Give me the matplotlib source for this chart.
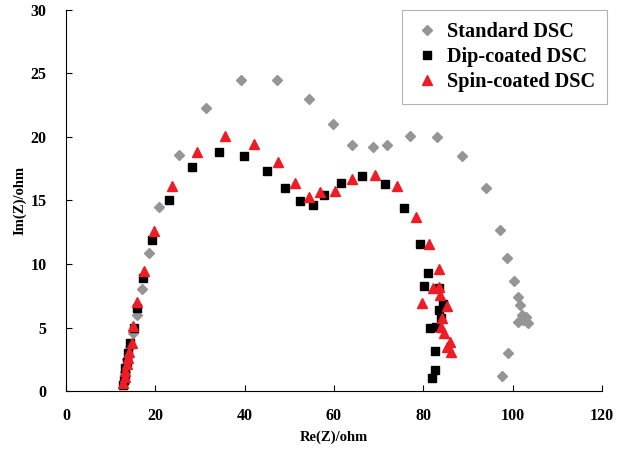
import numpy as np
import matplotlib.pyplot as plt

# Nyquist data: Re(Z), Im(Z) in ohm
std_re = [12.9, 13.3, 13.7, 14.3, 15.1, 16.0, 16.9, 18.5, 20.9, 25.3, 31.4, 39.1,
          47.3, 54.5, 59.8, 64.0, 68.7, 71.9, 77.0, 83.1, 88.7, 94.0, 97.2, 98.8,
          100.4, 101.1, 101.6, 102.0, 103.1, 101.3, 103.5, 102.4, 99.0, 97.7]
std_im = [0.6, 1.5, 2.5, 3.5, 4.54, 5.98, 8.03, 10.9, 14.5, 18.6, 22.3, 24.5,
          24.5, 23.0, 21.0, 19.4, 19.2, 19.4, 20.1, 20.0, 18.5, 16.0, 12.65, 10.45,
          8.66, 7.43, 6.77, 5.98, 5.85, 5.46, 5.38, 5.6, 2.97, 1.18]

dip_re = [12.7, 12.9, 13.1, 13.3, 13.6, 13.95, 14.3, 15.15, 15.9, 17.2, 19.3, 23.1,
          28.2, 34.2, 39.9, 45.1, 49.0, 52.3, 55.3, 57.8, 61.5, 66.3, 71.5, 75.7,
          79.2, 81.1, 80.2, 83.6, 84.3, 83.4, 83.95, 81.5, 82.8, 82.6, 82.6, 81.9]
dip_im = [0.5, 0.9, 1.3, 1.8, 2.3, 2.97, 3.75, 4.99, 6.51, 8.92, 11.9, 15.06,
          17.6, 18.8, 18.5, 17.35, 15.96, 14.98, 14.65, 15.4, 16.4, 16.9, 16.3, 14.4,
          11.55, 9.3, 8.27, 8.08, 6.83, 6.38, 5.72, 4.93, 5.06, 3.17, 1.65, 1.0]

spin_re = [12.8, 13.1, 13.3, 13.6, 13.9, 14.2, 14.7, 15.0, 15.9, 17.4, 19.8, 23.65,
           29.3, 35.7, 42.1, 47.5, 51.3, 54.5, 56.9, 60.2, 64.0, 69.1, 74.0, 78.3,
           81.3, 83.6, 82.2, 83.6, 83.7, 79.8, 85.2, 84.25, 83.9, 84.6, 86.0, 85.4, 86.3]
spin_im = [0.6, 1.1, 1.6, 2.1, 2.6, 3.1, 3.8, 5.12, 6.98, 9.47, 12.6, 16.1,
           18.8, 20.05, 19.45, 18.0, 16.35, 15.25, 15.67, 15.75, 16.7, 17.0, 16.1, 13.7,
           11.57, 9.58, 8.08, 8.16, 7.56, 6.9, 6.69, 5.72, 5.06, 4.54, 3.88, 3.44, 3.1]

plt.rcParams['font.family'] = ['Liberation Serif', 'DejaVu Serif']
plt.rcParams['font.weight'] = 'bold'

fig = plt.figure(figsize=(6.29, 4.5), dpi=100)
ax = fig.add_axes([0.105, 0.131, 0.852, 0.847])

ax.plot(std_re, std_im, 'D', color='#959595', ms=4.7, mec='#959595', label='Standard DSC')
ax.plot(dip_re, dip_im, 's', color='black', ms=6.3, label='Dip-coated DSC')
ax.plot(spin_re, spin_im, '^', color='#ee1c24', ms=7, label='Spin-coated DSC')

ax.set_xlim(0, 120)
ax.set_ylim(0, 30)
ax.set_xticks(np.arange(0, 121, 20))
ax.set_yticks(np.arange(0, 31, 5))
ax.spines['top'].set_visible(False)
ax.spines['right'].set_visible(False)
ax.tick_params(axis='x', direction='in', length=4, labelsize=11.5, pad=12)
ax.tick_params(axis='y', direction='in', length=4, labelsize=11.5, pad=14)
for lab in ax.get_xticklabels() + ax.get_yticklabels():
    lab.set_fontweight('bold')

ax.set_xlabel('Re(Z)/ohm', fontsize=10.5, fontweight='bold', labelpad=5)
ax.set_ylabel('Im(Z)/ohm', fontsize=10.5, fontweight='bold', labelpad=3)

leg = ax.legend(loc='upper right', bbox_to_anchor=(1.01, 1.0),
                prop={'weight': 'bold', 'size': 14.6}, frameon=True, fancybox=False,
                edgecolor='#a0a0a0', handletextpad=0.4, borderpad=0.6,
                labelspacing=0.25, handlelength=1.2, borderaxespad=0.0)
leg.get_frame().set_linewidth(0.8)

fig.savefig('out.png', dpi=100)
